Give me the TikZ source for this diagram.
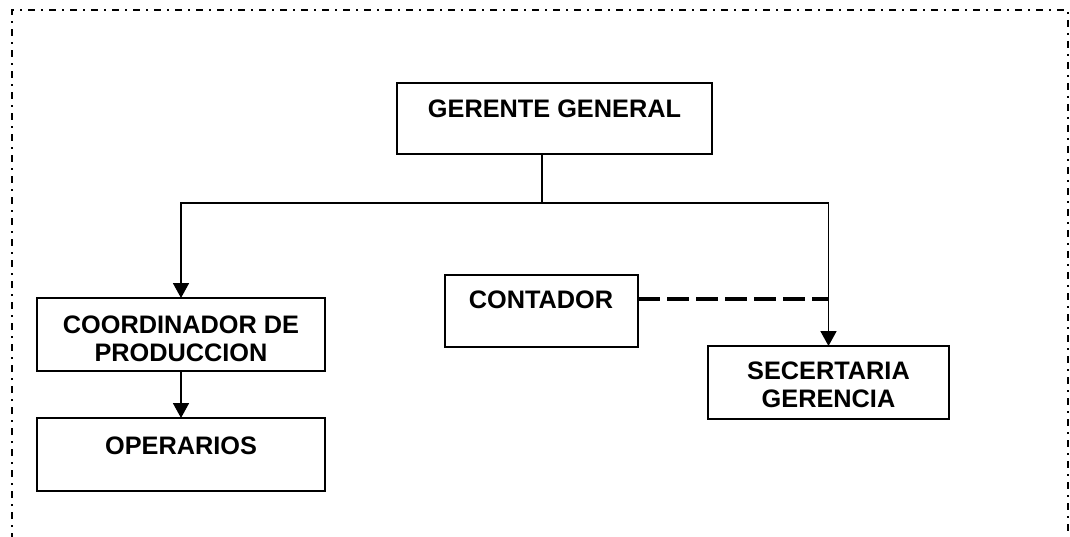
\documentclass[tikz,border=0pt]{standalone}
\usepackage{fontspec}
\setmainfont{Liberation Sans}
\usetikzlibrary{arrows.meta}
\begin{document}
\begin{tikzpicture}[x=1pt,y=-1pt,
  box/.style={draw=black,line width=2.3pt,rectangle,inner sep=0pt,outer sep=0pt},
  lbl/.style={font=\fontsize{25.3}{27.8}\selectfont\bfseries,inner sep=0pt,anchor=base,align=center},
  conn/.style={line width=1.8pt},
  arr/.style={conn,-{Triangle[length=15pt,width=16pt]}},
  dsh/.style={line width=4pt,dash pattern=on 22pt off 7pt},
  frame/.style={line width=2pt,dash pattern=on 7pt off 6pt on 2pt off 6pt}]
\useasboundingbox (0,0) rectangle (1070,537);
% frame
\coordinate (fbl) at (12,540);
\coordinate (ftl) at (12,10);
\coordinate (ftr) at (1068,10);
\coordinate (fbr) at (1068,540);
\draw[frame] (fbl) -- (ftl) -- (ftr) -- (fbr);
% boxes
\node[box,minimum width=315pt,minimum height=71pt] (gg) at (554.5,118.5) {};
\node[box,minimum width=288pt,minimum height=73pt] (coord) at (181,334.5) {};
\node[box,minimum width=288pt,minimum height=73pt] (oper) at (181,454.5) {};
\node[box,minimum width=193pt,minimum height=72pt] (cont) at (541.5,311) {};
\node[box,minimum width=241pt,minimum height=73pt] (sec) at (828.5,382.5) {};
% texts
\node[lbl] (ggt) at (554.5,118) {GERENTE GENERAL};
\node[lbl] (coordt) at (181,361) {COORDINADOR DE\\PRODUCCION};
\node[lbl] (opert) at (181,454) {OPERARIOS};
\node[lbl] (contt) at (541,308) {CONTADOR};
\node[lbl] (sect) at (828.5,407) {SECERTARIA\\GERENCIA};
% connectors
\coordinate (bus) at (542,203);
\coordinate (dashend) at (828.5,299);
\draw[conn] (bus |- gg.south) -- (bus);
\draw[arr] (bus) -| (coord.north);
\draw[arr] (bus) -| (sec.north);
\draw[arr] (coord.south) -- (oper.north);
\draw[dsh] (cont.east |- dashend) -- (dashend);
\end{tikzpicture}
\end{document}
